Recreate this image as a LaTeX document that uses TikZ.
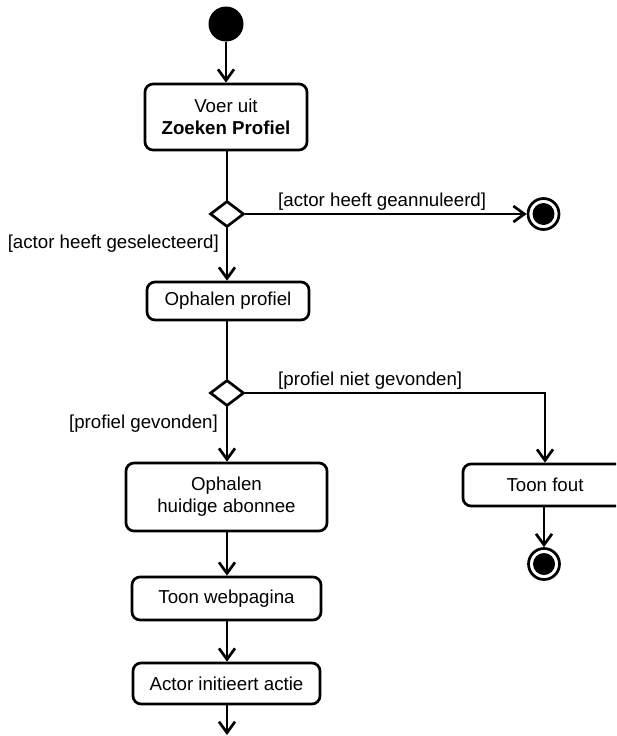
\documentclass[tikz,border=0pt]{standalone}
\usepackage{fontspec}
\setmainfont{Liberation Sans}
\usetikzlibrary{arrows.meta,shapes.geometric}
\begin{document}
\begin{tikzpicture}[x=1pt,y=-1pt,
  every node/.style={font=\fontsize{18.7}{22}\selectfont},
  flow/.style={line width=2.7pt,-{Straight Barb[length=11pt,width=16pt]}},
  plain/.style={line width=2.7pt},
  action/.style={draw,line width=2.7pt,rounded corners=8pt,align=center,inner sep=0pt},
  choice/.style={draw,line width=2.7pt,diamond,aspect=1.3,minimum width=34pt,minimum height=26pt,inner sep=0pt},
  startdot/.style={circle,fill=black,minimum size=35pt,inner sep=0pt},
  endring/.style={circle,draw,line width=2.7pt,minimum size=31pt,inner sep=0pt,
    path picture={\fill (path picture bounding box.center) circle (11pt);}},
  guard/.style={inner sep=0pt}
]
\useasboundingbox (0,0) rectangle (616,736);
\clip (0,0) rectangle (616,736);

% start and the first action
\node[startdot] (start) at (226,24) {};
\node[action,minimum width=162pt,minimum height=66pt] (zoek) at (226,117)
  {Voer uit\\\textbf{Zoeken Profiel}};

% first decision
\node[choice] (d1) at (227,214) {};
\node[endring] (end1) at (543.5,214) {};

\node[action,minimum width=162pt,minimum height=38pt] (haal) at (228,301) {Ophalen profiel};

% second decision
\node[choice] (d2) at (227,393) {};
\node[action,minimum width=201pt,minimum height=68pt] (abon) at (226.5,497)
  {Ophalen\\huidige abonnee};
\node[action,minimum width=164pt,minimum height=42pt] (fout) at (545,485) {Toon fout};
\node[endring] (end2) at (544,564) {};

\node[action,minimum width=189pt,minimum height=43pt] (web) at (226.5,598.5) {Toon webpagina};
\node[action,minimum width=187pt,minimum height=41pt] (actie) at (226.5,683.5) {Actor initieert actie};
\coordinate (verder) at (227,735);

% guard labels
\node[guard,anchor=base west] (g1) at (278,206) {[actor heeft geannuleerd]};
\node[guard,anchor=base east] (g2) at (219,248) {[actor heeft geselecteerd]};
\node[guard,anchor=base west] (g3) at (278,385) {[profiel niet gevonden]};
\node[guard,anchor=base east] (g4) at (218,428) {[profiel gevonden]};

% connectors
\draw[flow] (start) -- (zoek.north -| start);
\draw[plain] (zoek.south -| d1) -- (d1.north);
\draw[flow] (d1.east) -- (end1.west);
\draw[flow] (d1.south) -- (haal.north -| d1);
\draw[plain] (haal.south -| d2) -- (d2.north);
\draw[flow] (d2.south) -- (abon.north -| d2);
\draw[flow] (d2.east) -| (fout.north);
\draw[flow] (fout.south -| end2) -- (end2.north);
\draw[flow] (abon.south -| d2) -- (web.north -| d2);
\draw[flow] (web.south -| d2) -- (actie.north -| d2);
\draw[flow] (actie.south -| d2) -- (verder);
\end{tikzpicture}
\end{document}
